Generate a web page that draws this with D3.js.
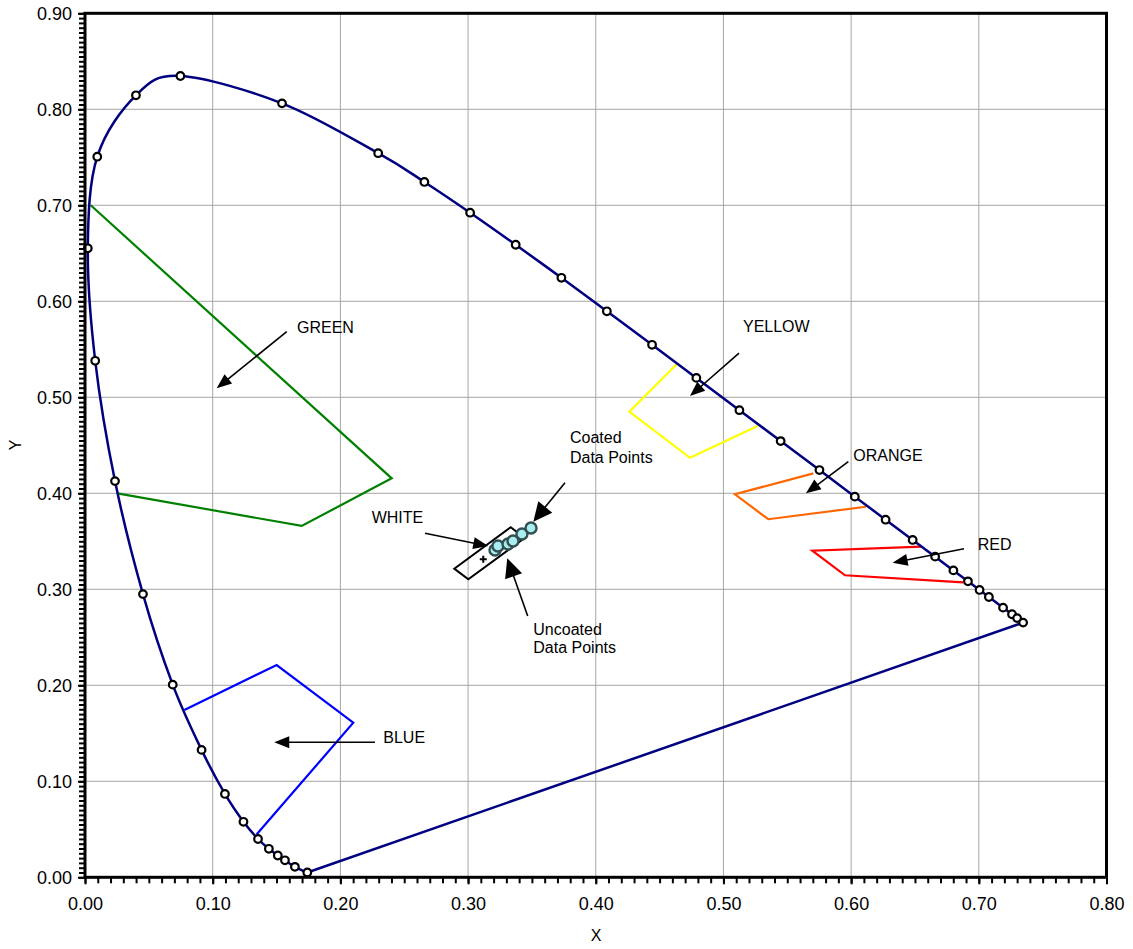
<!DOCTYPE html>
<html>
<head>
<meta charset="utf-8">
<script src="https://cdn.jsdelivr.net/npm/d3@7"></script>
<style>
  body { margin: 0; background: #fff; }
  text { font-family: Arial, "Liberation Sans", sans-serif; fill: #000; }
</style>
</head>
<body>
<script>
// CIE 1931 chromaticity chart with signal colour boundaries

// spectral locus points (one marker each)
var locusNm = [380, 440, 450, 455, 460, 465, 470, 475, 480, 485, 490, 495, 500, 505, 510, 515, 520,
  530, 540, 545, 550, 555, 560, 565, 570, 575, 580, 585, 590, 595, 600, 605, 610, 615, 620, 625,
  630, 640, 650, 660, 700];
var locusX = [0.1741, 0.1644, 0.1566, 0.1510, 0.1440, 0.1355, 0.1241, 0.1096, 0.0913, 0.0687, 0.0454,
  0.0235, 0.0080, 0.0022, 0.0096, 0.0399, 0.0747, 0.1543, 0.2296, 0.2658, 0.3016, 0.3373, 0.3731,
  0.4087, 0.4441, 0.4788, 0.5125, 0.5448, 0.5752, 0.6029, 0.6270, 0.6482, 0.6658, 0.6801, 0.6915,
  0.7006, 0.7079, 0.7190, 0.7260, 0.7300, 0.7347];
var locusY = [0.0050, 0.0109, 0.0177, 0.0227, 0.0297, 0.0399, 0.0578, 0.0868, 0.1327, 0.2007, 0.2950,
  0.4127, 0.5380, 0.6552, 0.7506, 0.8146, 0.8347, 0.8062, 0.7543, 0.7243, 0.6923, 0.6589, 0.6245,
  0.5896, 0.5547, 0.5202, 0.4866, 0.4544, 0.4242, 0.3965, 0.3725, 0.3514, 0.3340, 0.3197, 0.3083,
  0.2993, 0.2920, 0.2809, 0.2740, 0.2700, 0.2653];

// colour boundaries (open polylines, last side lies on the locus)
var greenBound = [[0.0045, 0.700], [0.2402, 0.4156], [0.1697, 0.366], [0.0253, 0.400]];
var yellowBound = [[0.4641, 0.5354], [0.4263, 0.485], [0.4738, 0.437], [0.5268, 0.470]];
var orangeBound = [[0.5704, 0.4208], [0.5090, 0.399], [0.5351, 0.373], [0.6116, 0.386]];
var redBound = [[0.6553, 0.3444], [0.5696, 0.3402], [0.5952, 0.3146], [0.6878, 0.3073]];
var blueBound = [[0.0778, 0.1743], [0.1501, 0.2211], [0.2101, 0.161], [0.1345, 0.0448]];
var whiteBox = [[0.3334, 0.3646], [0.2892, 0.3215], [0.3002, 0.3104], [0.3443, 0.3535]];
var whitePoint = [0.3119, 0.3313];

// measured points
var uncoatedX = [0.3211, 0.3234, 0.3313];
var uncoatedY = [0.3409, 0.3451, 0.3472];
var coatedX = [0.3352, 0.3422, 0.3493];
var coatedY = [0.3503, 0.3576, 0.3639];

// labels: text, x, y (data units, baseline)
var labelText = ["GREEN", "YELLOW", "ORANGE", "RED", "BLUE", "WHITE", "Coated", "Data Points", "Uncoated", "Data Points"];
var labelX = [0.1660, 0.5153, 0.6017, 0.6991, 0.2336, 0.2245, 0.3798, 0.3798, 0.3511, 0.3511];
var labelY = [0.5670, 0.5680, 0.4340, 0.3409, 0.1396, 0.3687, 0.4521, 0.4313, 0.2524, 0.2333];

// arrows: start, tip, big head?
var arrowFrom = [[0.1580, 0.5683], [0.5122, 0.5461], [0.5978, 0.4329], [0.6884, 0.3423], [0.2271, 0.1406],
  [0.2663, 0.3583], [0.3759, 0.4110], [0.3467, 0.2722]];
var arrowTo = [[0.1031, 0.5094], [0.4738, 0.5013], [0.5646, 0.4000], [0.6325, 0.3277], [0.1482, 0.1406],
  [0.3158, 0.3451], [0.3511, 0.3704], [0.3307, 0.3323]];
var arrowBig = [false, false, false, false, false, false, true, true];

var xTicks = [0, 0.1, 0.2, 0.3, 0.4, 0.5, 0.6, 0.7, 0.8];
var yTicks = [0, 0.1, 0.2, 0.3, 0.4, 0.5, 0.6, 0.7, 0.8, 0.9];

var w = 1133;
var h = 949;

var svg = d3.select("body")
  .append("svg")
  .attr("width", w)
  .attr("height", h);

var x = d3.scaleLinear().domain([0, 0.8]).range([85, 1106.5]);
var y = d3.scaleLinear().domain([0, 0.9]).range([877.3, 13.3]);

//grid lines
svg.append("g").selectAll("line")
  .data(xTicks.slice(1, -1))
  .enter().append("line")
  .attr("x1", function(d) { return x(d); })
  .attr("x2", function(d) { return x(d); })
  .attr("y1", y(0)).attr("y2", y(0.9))
  .attr("stroke", "#a6a6a6").attr("stroke-width", 1);
svg.append("g").selectAll("line")
  .data(yTicks.slice(1, -1))
  .enter().append("line")
  .attr("y1", function(d) { return y(d); })
  .attr("y2", function(d) { return y(d); })
  .attr("x1", x(0)).attr("x2", x(0.8))
  .attr("stroke", "#a6a6a6").attr("stroke-width", 1);

//colour boundaries
var poly = d3.line().x(function(d) { return x(d[0]); }).y(function(d) { return y(d[1]); });
var bounds = [[greenBound, "#008000"], [yellowBound, "#ffff00"], [orangeBound, "#ff6600"],
  [redBound, "#ff0000"], [blueBound, "#0000ff"]];
bounds.forEach(function(b) {
  svg.append("path")
    .attr("d", poly(b[0]))
    .attr("fill", "none")
    .attr("stroke", b[1])
    .attr("stroke-width", 2.2);
});

//spectral locus
var locus = locusX.map(function(v, i) { return [v, locusY[i]]; });
svg.append("path")
  .attr("d", d3.line()
    .x(function(d) { return x(d[0]); })
    .y(function(d) { return y(d[1]); })
    .curve(d3.curveCardinal.tension(0))(locus))
  .attr("fill", "none")
  .attr("stroke", "#000080")
  .attr("stroke-width", 2.5);
//purple line
svg.append("path")
  .attr("d", poly([locus[0], locus[locus.length - 1]]))
  .attr("stroke", "#000080")
  .attr("stroke-width", 2.5);

svg.append("g").selectAll("circle")
  .data(locus)
  .enter().append("circle")
  .attr("cx", function(d) { return x(d[0]); })
  .attr("cy", function(d) { return y(d[1]); })
  .attr("r", 3.8)
  .attr("fill", "#fff")
  .attr("stroke", "#000")
  .attr("stroke-width", 2.2);

//white box and white point
svg.append("path")
  .attr("d", poly(whiteBox) + "Z")
  .attr("fill", "none")
  .attr("stroke", "#000")
  .attr("stroke-width", 2);
var wx = x(whitePoint[0]), wy = y(whitePoint[1]);
svg.append("path")
  .attr("d", "M" + (wx - 3.5) + "," + wy + "H" + (wx + 3.5) + "M" + wx + "," + (wy - 3.5) + "V" + (wy + 3.5))
  .attr("stroke", "#000")
  .attr("stroke-width", 2);

//data points
var pts = uncoatedX.map(function(v, i) { return [v, uncoatedY[i]]; })
  .concat(coatedX.map(function(v, i) { return [v, coatedY[i]]; }));
svg.append("g").selectAll("circle")
  .data(pts)
  .enter().append("circle")
  .attr("cx", function(d) { return x(d[0]); })
  .attr("cy", function(d) { return y(d[1]); })
  .attr("r", 5.5)
  .attr("fill", "#a8eef0")
  .attr("stroke", "#334f50")
  .attr("stroke-width", 2.4);

//arrows
arrowFrom.forEach(function(a, i) {
  var x1 = x(a[0]), y1 = y(a[1]);
  var x2 = x(arrowTo[i][0]), y2 = y(arrowTo[i][1]);
  var len = Math.sqrt((x2 - x1) * (x2 - x1) + (y2 - y1) * (y2 - y1));
  var ux = (x2 - x1) / len, uy = (y2 - y1) / len;
  var hl = arrowBig[i] ? 19 : 15;
  var hw = arrowBig[i] ? 9 : 6;
  var bx = x2 - ux * hl, by = y2 - uy * hl;
  svg.append("line")
    .attr("x1", x1).attr("y1", y1)
    .attr("x2", bx + ux * 2).attr("y2", by + uy * 2)
    .attr("stroke", "#000")
    .attr("stroke-width", 1.6);
  svg.append("path")
    .attr("d", "M" + x2 + "," + y2 + "L" + (bx - uy * hw) + "," + (by + ux * hw) +
      "L" + (bx + uy * hw) + "," + (by - ux * hw) + "Z")
    .attr("fill", "#000");
});

//labels
svg.append("g").selectAll("text")
  .data(labelText)
  .enter().append("text")
  .attr("x", function(d, i) { return x(labelX[i]); })
  .attr("y", function(d, i) { return y(labelY[i]); })
  .attr("font-size", "16px")
  .text(function(d) { return d; });

//axes
var minorX = d3.range(0, 81).map(function(d) { return d / 100; });
var minorY = d3.range(0, 181).map(function(d) { return d / 200; });

var xMinor = svg.append("g")
  .attr("transform", "translate(0," + y(0) + ")")
  .call(d3.axisBottom(x).tickValues(minorX).tickSize(6).tickFormat(""));
var yMinor = svg.append("g")
  .attr("transform", "translate(" + x(0) + ",0)")
  .call(d3.axisLeft(y).tickValues(minorY).tickSize(6).tickFormat(""));
var xAxis = svg.append("g")
  .attr("transform", "translate(0," + y(0) + ")")
  .call(d3.axisBottom(x).tickValues(xTicks).tickSize(7).tickPadding(13).tickFormat(d3.format(".2f")));
var yAxis = svg.append("g")
  .attr("transform", "translate(" + x(0) + ",0)")
  .call(d3.axisLeft(y).tickValues(yTicks).tickSize(7).tickPadding(6).tickFormat(d3.format(".2f")));

[xMinor, yMinor, xAxis, yAxis].forEach(function(g) {
  g.select(".domain").remove();
  g.selectAll(".tick line").attr("stroke", "#000").attr("stroke-width", 2);
  g.selectAll(".tick text")
    .attr("font-family", "Arial, 'Liberation Sans', sans-serif")
    .attr("font-size", "18px")
    .attr("fill", "#000");
});
yAxis.selectAll(".tick text").attr("dy", "0.35em");

//plot frame
svg.append("rect")
  .attr("x", x(0)).attr("y", y(0.9))
  .attr("width", x(0.8) - x(0))
  .attr("height", y(0) - y(0.9))
  .attr("fill", "none")
  .attr("stroke", "#000")
  .attr("stroke-width", 3);

//axis titles
svg.append("text")
  .attr("x", 596).attr("y", 941)
  .attr("text-anchor", "middle")
  .attr("font-size", "16px")
  .text("X");
svg.append("text")
  .attr("transform", "translate(21,445) rotate(-90)")
  .attr("text-anchor", "middle")
  .attr("font-size", "16px")
  .text("Y");
</script>
</body>
</html>
